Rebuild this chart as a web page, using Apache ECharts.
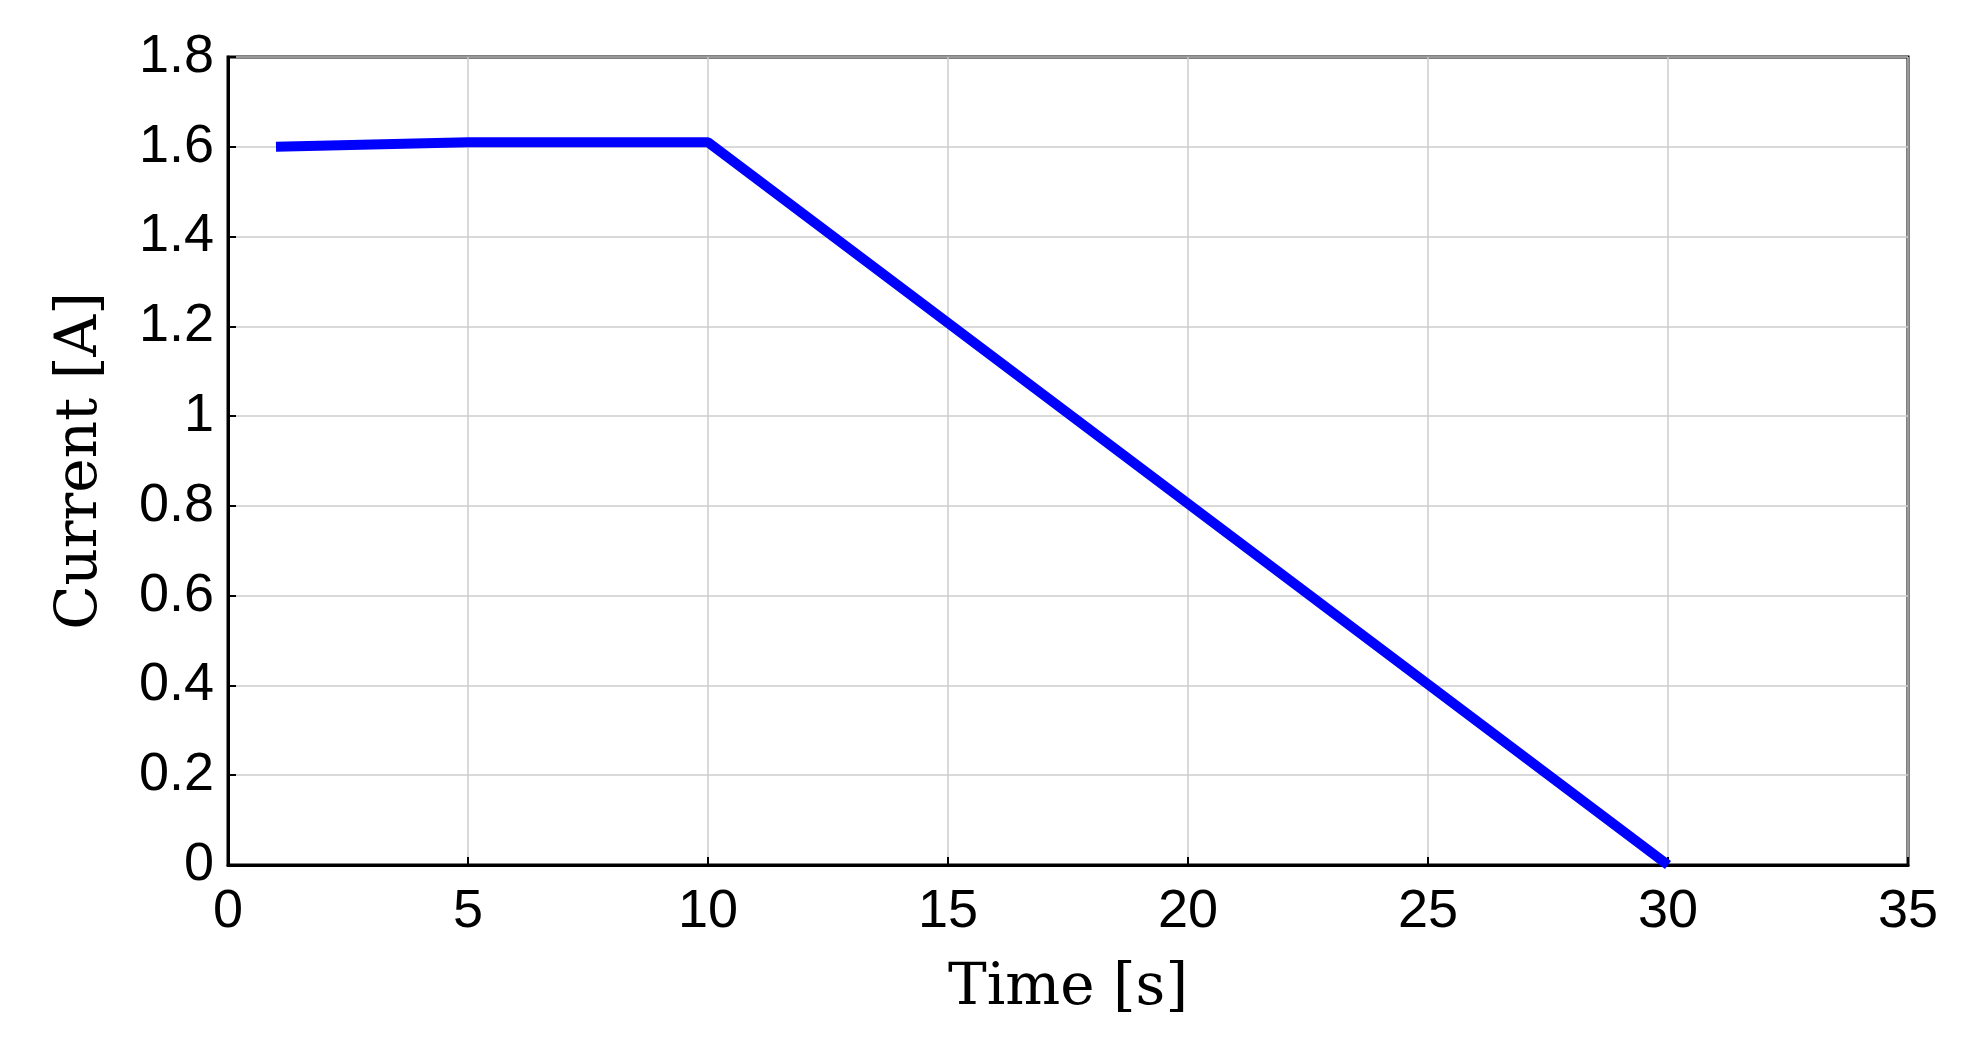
<!DOCTYPE html>
<html>
<head>
<meta charset="utf-8">
<script src="https://cdn.jsdelivr.net/npm/echarts@6/dist/echarts.min.js"></script>
<style>html,body{margin:0;padding:0;background:#fff}#chart{width:1968px;height:1043px}</style>
</head>
<body>
<div id="chart"></div>
<script>
// time [s] and current [A]
const timeS = [1, 5, 10, 30];
const currentA = [1.6, 1.61, 1.61, 0];

const chart = echarts.init(document.getElementById('chart'));
const gridLine = {show: true, lineStyle: {color: '#cccccc', width: 1.5}};
const axisTxt = {color: '#000', fontSize: 54, fontFamily: 'Liberation Sans, Arial, sans-serif'};
chart.setOption({
    animation: false,
    grid: {left: 228, right: 60, top: 57, bottom: 178, show: true, borderColor: '#000', borderWidth: 3},
    xAxis: {
        type: 'value', min: 0, max: 35, interval: 5,
        name: 'Time [s]', nameLocation: 'middle', nameGap: 95,
        nameTextStyle: {color: '#000', fontSize: 58, fontFamily: 'DejaVu Serif, Liberation Serif, serif'},
        axisLine: {lineStyle: {color: '#000', width: 3}},
        axisTick: {show: true, inside: true, length: 8, lineStyle: {color: '#000', width: 2}},
        axisLabel: Object.assign({margin: 20}, axisTxt),
        splitLine: gridLine
    },
    yAxis: {
        type: 'value', min: 0, max: 1.8, interval: 0.2,
        name: 'Current [A]', nameLocation: 'middle', nameGap: 118,
        nameTextStyle: {color: '#000', fontSize: 58, fontFamily: 'DejaVu Serif, Liberation Serif, serif'},
        axisLine: {show: true, lineStyle: {color: '#000', width: 3}},
        axisTick: {show: true, inside: true, length: 8, lineStyle: {color: '#000', width: 2}},
        axisLabel: Object.assign({margin: 14, formatter: v => String(+v.toFixed(1))}, axisTxt),
        splitLine: gridLine
    },
    series: [{
        type: 'line',
        data: timeS.map((t, i) => [t, currentA[i]]),
        symbol: 'none',
        lineStyle: {color: '#0000ff', width: 10}
    }]
});
</script>
</body>
</html>
